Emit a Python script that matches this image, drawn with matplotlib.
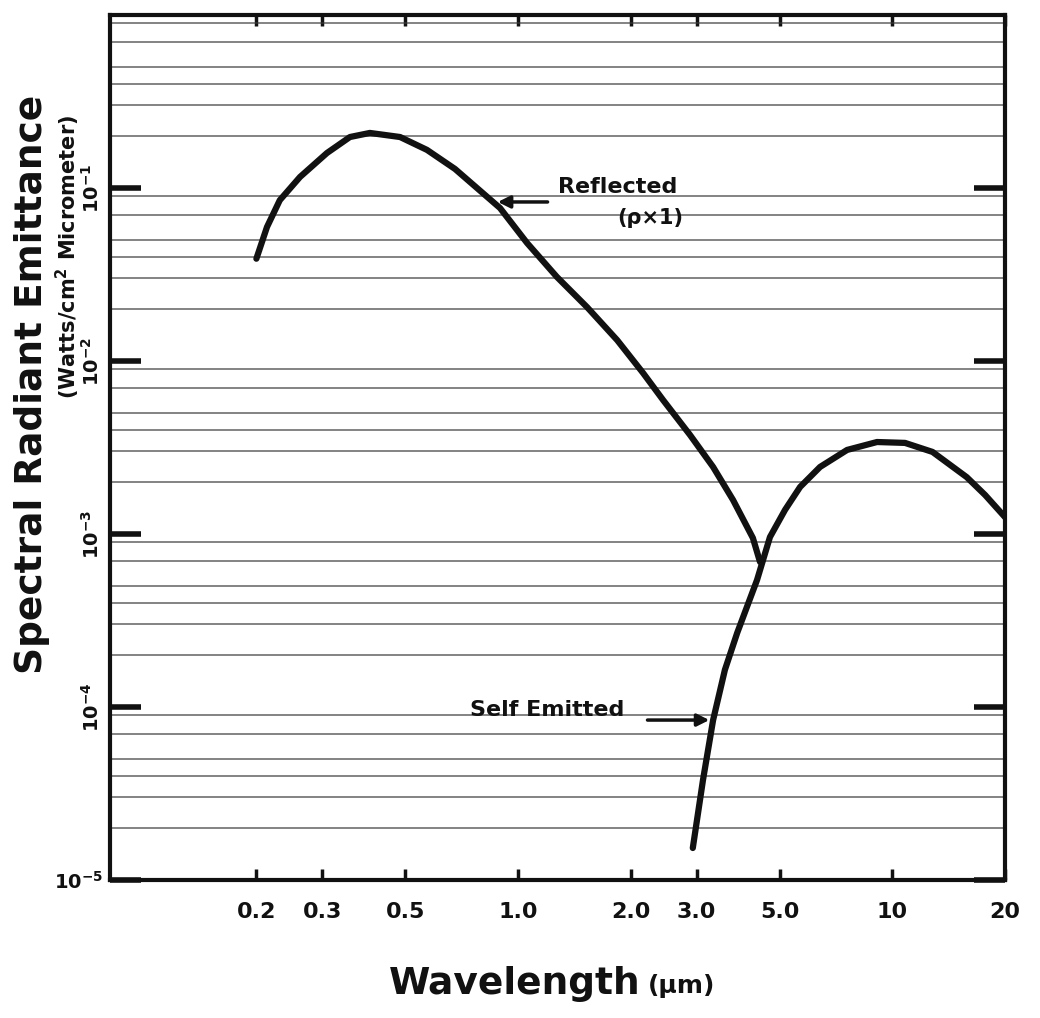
import numpy as np
import matplotlib
matplotlib.use("Agg")
import matplotlib.pyplot as plt
from matplotlib.ticker import FixedLocator, NullLocator, NullFormatter, LogLocator

# reflected solar component (rho x 1)
refl_wl  = [0.20, 0.2135, 0.231, 0.2616, 0.3088, 0.3556, 0.402, 0.484, 0.5711, 0.6786,
            0.895, 1.057, 1.27, 1.528, 1.84, 2.158, 2.44, 2.88, 3.32, 3.753, 4.24, 4.43]
refl_val = [0.039, 0.0595, 0.085, 0.1158, 0.1593, 0.197, 0.208, 0.197, 0.166, 0.1288,
            0.0766, 0.0481, 0.0306, 0.0205, 0.0132, 0.00852, 0.00595, 0.003736, 0.002439,
            0.001572, 0.000948, 0.000689]

# self emitted (thermal) component
emit_wl  = [2.93, 3.12, 3.32, 3.57, 3.85, 4.35, 4.71, 5.17, 5.67, 6.41, 7.57, 9.10, 10.81,
            12.8, 15.8, 17.69, 20.0]
emit_val = [1.53e-5, 3.79e-5, 8.4e-5, 1.64e-4, 2.68e-4, 5.42e-4, 9.6e-4, 1.38e-3, 1.87e-3,
            2.44e-3, 3.06e-3, 3.40e-3, 3.36e-3, 2.98e-3, 2.13e-3, 1.68e-3, 1.25e-3]

x_ticks  = [0.2, 0.3, 0.5, 1.0, 2.0, 3.0, 5.0, 10, 20]
x_labels = ["0.2", "0.3", "0.5", "1.0", "2.0", "3.0", "5.0", "10", "20"]
y_ticks  = [1e-5, 1e-4, 1e-3, 1e-2, 1e-1]
y_labels = [r"$\mathbf{10^{-5}}$", r"$\mathbf{10^{-4}}$", r"$\mathbf{10^{-3}}$",
            r"$\mathbf{10^{-2}}$", r"$\mathbf{10^{-1}}$"]

INK = "#111111"

fig = plt.figure(figsize=(10.4, 10.18), dpi=100)
ax = fig.add_axes([0.1058, 0.1356, 0.8606, 0.8497])
ax.set_xscale("log"); ax.set_yscale("log")
ax.set_xlim(0.0813, 20); ax.set_ylim(1e-5, 1.0)

# ruled background lines
ax.yaxis.set_minor_locator(LogLocator(base=10, subs=[2, 3, 4, 5, 7, 9]))
ax.yaxis.set_minor_formatter(NullFormatter())
ax.grid(True, which="minor", axis="y", color="#3a3a3a", lw=1.1, alpha=0.8)
ax.tick_params(axis="y", which="minor", length=0)

ax.plot(refl_wl, refl_val, color=INK, lw=4.5, solid_capstyle="round", solid_joinstyle="round")
ax.plot(emit_wl, emit_val, color=INK, lw=4.5, solid_capstyle="round", solid_joinstyle="round")

# x axis
ax.xaxis.set_major_locator(FixedLocator(x_ticks))
ax.xaxis.set_minor_locator(NullLocator())
ax.set_xticklabels(x_labels, fontsize=16, fontweight="bold")
ax.tick_params(axis="x", which="major", direction="in", top=True, length=8, width=2.5,
               pad=16, colors=INK)

# y axis
ax.yaxis.set_major_locator(FixedLocator(y_ticks))
ax.set_yticklabels(y_labels, fontsize=14)
ax.tick_params(axis="y", which="major", direction="in", right=True, length=22, width=4,
               pad=5, colors=INK)
for i, t in enumerate(ax.get_yticklabels()):
    if i > 0:
        t.set_rotation(90); t.set_va("center")

for s in ax.spines.values():
    s.set_linewidth(3); s.set_color(INK)

# labels
fig.text(0.031, 0.622, "Spectral Radiant Emittance", rotation=90, ha="center", va="center",
         fontsize=27, fontweight="bold", color=INK)
fig.text(0.065, 0.748, "(Watts/cm$^\\mathbf{2}$ Micrometer)", rotation=90, ha="center",
         va="center", fontsize=15, fontweight="bold", color=INK)
fig.text(0.616, 0.033, "Wavelength", ha="right", va="center", fontsize=27,
         fontweight="bold", color=INK)
fig.text(0.623, 0.031, "(\u00b5m)", ha="left", va="center", fontsize=18, fontweight="bold",
         color=INK)

# annotations
ax.annotate("", xy=(0.868, 0.083), xytext=(1.22, 0.083),
            arrowprops=dict(arrowstyle="-|>", color=INK, lw=2.5, mutation_scale=18))
ax.text(1.28, 0.101, "Reflected", fontsize=16, fontweight="bold", va="center", color=INK)
ax.text(2.25, 0.067, "(\u03c1\u00d71)", fontsize=15, fontweight="bold", ha="center",
        va="center", color=INK)
ax.annotate("", xy=(3.30, 8.4e-5), xytext=(2.18, 8.4e-5),
            arrowprops=dict(arrowstyle="-|>", color=INK, lw=2.5, mutation_scale=18))
ax.text(0.744, 9.6e-5, "Self Emitted", fontsize=16, fontweight="bold", va="center", color=INK)

fig.savefig("out.png", dpi=100)
